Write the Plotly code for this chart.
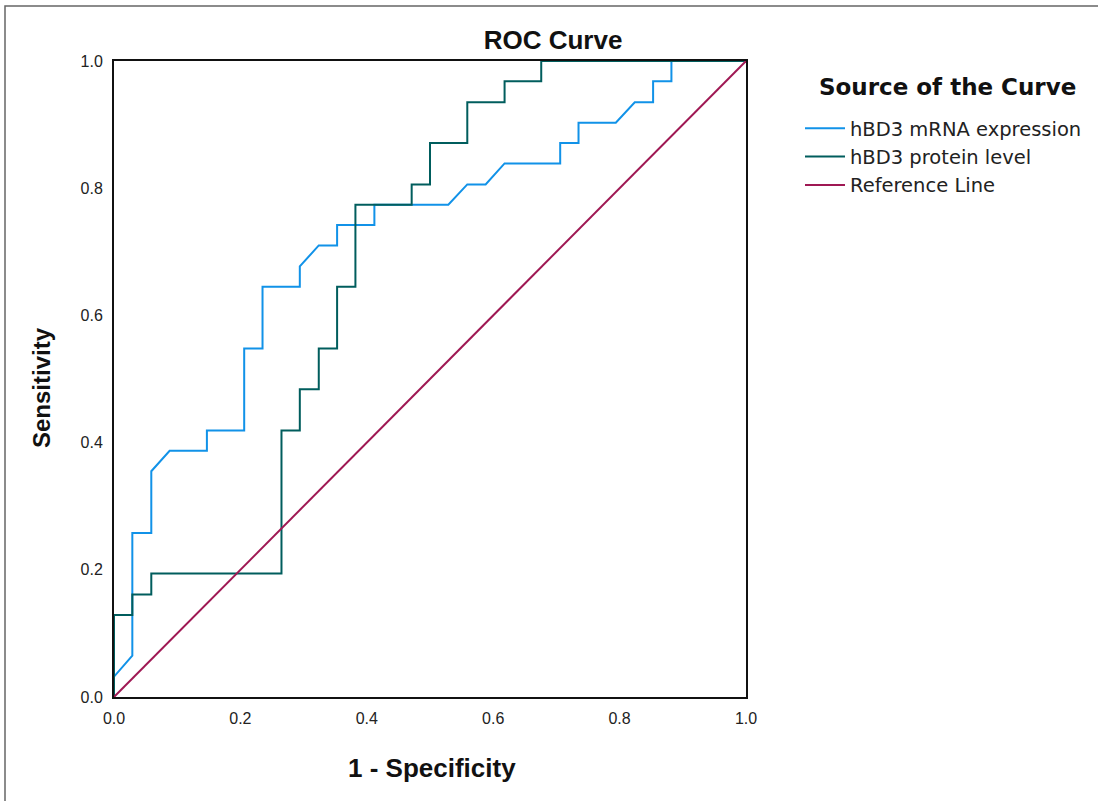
import plotly.graph_objects as go

# ROC data
mrna_fpr = [0.000, 0.000, 0.029, 0.029, 0.059, 0.059, 0.088, 0.147, 0.147, 0.206, 0.206, 0.235,
            0.235, 0.294, 0.294, 0.324, 0.353, 0.353, 0.412, 0.412, 0.529, 0.559, 0.588, 0.618,
            0.706, 0.706, 0.735, 0.735, 0.794, 0.824, 0.853, 0.853, 0.882, 0.882, 1.000]
mrna_tpr = [0.000, 0.032, 0.065, 0.258, 0.258, 0.355, 0.387, 0.387, 0.419, 0.419, 0.548, 0.548,
            0.645, 0.645, 0.677, 0.710, 0.710, 0.742, 0.742, 0.774, 0.774, 0.806, 0.806, 0.839,
            0.839, 0.871, 0.871, 0.903, 0.903, 0.935, 0.935, 0.968, 0.968, 1.000, 1.000]

protein_fpr = [0.000, 0.000, 0.029, 0.029, 0.059, 0.059, 0.265, 0.265, 0.294, 0.294, 0.324, 0.324,
               0.353, 0.353, 0.382, 0.382, 0.471, 0.471, 0.500, 0.500, 0.559, 0.559, 0.618, 0.618,
               0.676, 0.676, 1.000]
protein_tpr = [0.000, 0.129, 0.129, 0.161, 0.161, 0.194, 0.194, 0.419, 0.419, 0.484, 0.484, 0.548,
               0.548, 0.645, 0.645, 0.774, 0.774, 0.806, 0.806, 0.871, 0.871, 0.935, 0.935, 0.968,
               0.968, 1.000, 1.000]

ref_x = [0.0, 1.0]
ref_y = [0.0, 1.0]

tick_vals = [0.0, 0.2, 0.4, 0.6, 0.8, 1.0]
tick_text = ["0.0", "0.2", "0.4", "0.6", "0.8", "1.0"]

W, H = 1098, 801
L, R, T, B = 114, 352, 61, 104
PW, PH = W - L - R, H - T - B


def px_x(p):
    return (p - L) / PW


def px_y(p):
    return (H - B - p) / PH


FONT = "Liberation Sans, Arial, sans-serif"
LFONT = "DejaVu Sans, sans-serif"

fig = go.Figure()
fig.add_trace(go.Scatter(x=mrna_fpr, y=mrna_tpr, mode="lines", name="hBD3 mRNA expression",
                         legendgroup="a", line=dict(color="#1192e8", width=2)))
fig.add_trace(go.Scatter(x=protein_fpr, y=protein_tpr, mode="lines", name="hBD3 protein level",
                         legendgroup="b", line=dict(color="#005d5d", width=2)))
fig.add_trace(go.Scatter(x=ref_x, y=ref_y, mode="lines", name="Reference Line",
                         legendgroup="c", line=dict(color="#9f1853", width=2)))

axis_common = dict(
    range=[0, 1], tickvals=tick_vals, ticktext=tick_text,
    showgrid=False, zeroline=False, showline=True, mirror=True,
    linecolor="#111111", linewidth=2,
    ticks="outside", ticklen=6, tickcolor="rgba(0,0,0,0)",
    tickfont=dict(family=FONT, size=16, color="#222222"),
)

fig.update_layout(
    width=W, height=H,
    margin=dict(l=L, r=R, t=T, b=B, autoexpand=False),
    paper_bgcolor="white", plot_bgcolor="white",
    title=dict(text="<b>ROC Curve</b>", x=553 / W, xanchor="center",
               y=1 - 40 / H, yanchor="middle",
               font=dict(family=FONT, size=26, color="#111111")),
    xaxis=axis_common,
    yaxis=axis_common,
    showlegend=True,
    legend=dict(
        x=px_x(800), xanchor="left", y=px_y(109), yanchor="top",
        font=dict(family=LFONT, size=19.5, color="#222222"),
        tracegroupgap=0, itemwidth=40, bgcolor="rgba(0,0,0,0)",
    ),
    annotations=[
        dict(text="<b>Source of the Curve</b>", xref="paper", yref="paper",
             x=px_x(947), y=px_y(87), xanchor="center", yanchor="middle",
             showarrow=False, font=dict(family=LFONT, size=23, color="#111111")),
        dict(text="<b>1 - Specificity</b>", xref="paper", yref="paper",
             x=px_x(432), y=px_y(768), xanchor="center", yanchor="middle",
             showarrow=False, font=dict(family=FONT, size=26, color="#111111")),
        dict(text="<b>Sensitivity</b>", xref="paper", yref="paper",
             x=px_x(42), y=px_y(388), xanchor="center", yanchor="middle",
             textangle=-90, showarrow=False,
             font=dict(family=FONT, size=24, color="#111111")),
    ],
    shapes=[
        dict(type="rect", xref="paper", yref="paper",
             x0=px_x(5), x1=px_x(1110), y0=px_y(815), y1=px_y(6),
             line=dict(color="#666666", width=1.5), fillcolor="rgba(0,0,0,0)", layer="below"),
    ],
)

fig.write_html("out.html", config={"displayModeBar": False},
               post_script="document.body.style.margin='0';document.body.style.overflow='hidden';")
